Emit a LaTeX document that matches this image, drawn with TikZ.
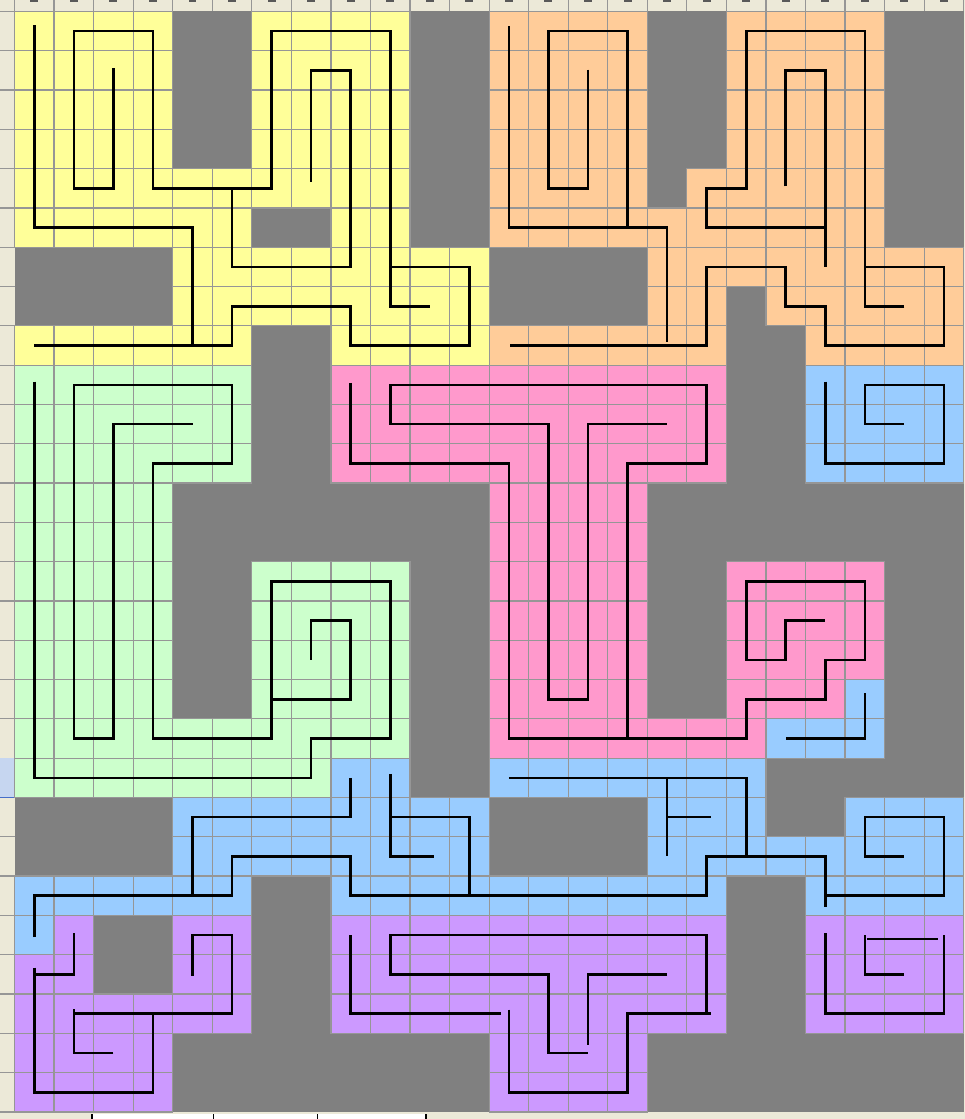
\documentclass[tikz,border=0pt]{standalone}
\usepackage{tikz}
\definecolor{cY}{RGB}{255,255,153}
\definecolor{cO}{RGB}{255,204,153}
\definecolor{cG}{RGB}{204,255,204}
\definecolor{cP}{RGB}{255,153,204}
\definecolor{cB}{RGB}{153,204,255}
\definecolor{cU}{RGB}{204,153,255}
\definecolor{cGray}{RGB}{128,128,128}
\definecolor{cGrid}{RGB}{150,150,150}
\definecolor{cRuler}{RGB}{236,233,216}
\definecolor{cSel}{RGB}{198,214,240}
\definecolor{cSelB}{RGB}{70,110,200}
\tikzset{
  gridcell/.style={draw=cGrid, line width=0.9pt},
  route/.style={draw=black, line width=2pt, line join=miter},
  rulerline/.style={draw=cGrid, line width=0.9pt}
}
\newcommand{\cellblock}[5]{%
  \foreach \rr in {#2,...,#3}{\foreach \cc in {#4,...,#5}{%
    \filldraw[gridcell, fill=#1] (\cc-0.5,\rr-0.5) rectangle ++(1,1);}}}
\begin{document}
\begin{tikzpicture}[x={(29.6625pt,0)}, y={(0,-29.475pt)}]
\useasboundingbox (-0.8673,-0.7926) rectangle (23.532,27.681);
% rulers
\fill[cRuler] (-0.8673,-0.7926) rectangle (23.532,27.681);
\fill[cGray] (-0.5,-0.5) rectangle (23.5,27.5);
\foreach \c in {0,...,24} \draw[rulerline] (\c-0.5,-0.7926) -- (\c-0.5,-0.5);
\foreach \r in {0,...,28} \draw[rulerline] (-0.8673,\r-0.5) -- (-0.5,\r-0.5);
\foreach \c in {0,...,23} \fill[black!65] (\c-0.1,-0.7926) rectangle (\c+0.1,-0.73);
\fill[cSel] (-0.8673,18.5) rectangle (-0.51,19.5);
\draw[cSelB, line width=0.8pt] (-0.8673,19.5) -- (-0.51,19.5) -- (-0.51,18.5);
\fill[white] (1.459,27.56) rectangle (9.904,27.681);
\foreach \x in {1.459,4.52,7.17,9.904} \draw[black, line width=0.8pt] (\x,27.56) -- (\x,27.681);
% yellow
\cellblock{cY}{0}{3}{0}{3}
\cellblock{cY}{0}{3}{6}{9}
\cellblock{cY}{4}{4}{0}{9}
\cellblock{cY}{5}{5}{0}{5}
\cellblock{cY}{5}{5}{8}{9}
\cellblock{cY}{6}{7}{4}{11}
\cellblock{cY}{8}{8}{0}{5}
\cellblock{cY}{8}{8}{8}{11}
% orange
\cellblock{cO}{0}{3}{12}{15}
\cellblock{cO}{0}{3}{18}{21}
\cellblock{cO}{4}{4}{12}{15}
\cellblock{cO}{4}{4}{17}{21}
\cellblock{cO}{5}{5}{12}{21}
\cellblock{cO}{6}{6}{16}{23}
\cellblock{cO}{7}{7}{16}{17}
\cellblock{cO}{7}{7}{19}{23}
\cellblock{cO}{8}{8}{12}{17}
\cellblock{cO}{8}{8}{20}{23}
% green
\cellblock{cG}{9}{11}{0}{5}
\cellblock{cG}{12}{13}{0}{3}
\cellblock{cG}{14}{17}{0}{3}
\cellblock{cG}{14}{17}{6}{9}
\cellblock{cG}{18}{18}{0}{9}
\cellblock{cG}{19}{19}{0}{7}
% pink
\cellblock{cP}{9}{11}{8}{17}
\cellblock{cP}{12}{13}{12}{15}
\cellblock{cP}{14}{16}{12}{15}
\cellblock{cP}{14}{16}{18}{21}
\cellblock{cP}{17}{17}{12}{15}
\cellblock{cP}{17}{17}{18}{20}
\cellblock{cP}{18}{18}{12}{18}
% blue
\cellblock{cB}{9}{11}{20}{23}
\cellblock{cB}{17}{17}{21}{21}
\cellblock{cB}{18}{18}{19}{21}
\cellblock{cB}{19}{19}{8}{9}
\cellblock{cB}{19}{19}{12}{18}
\cellblock{cB}{20}{20}{4}{11}
\cellblock{cB}{20}{20}{16}{18}
\cellblock{cB}{20}{20}{21}{23}
\cellblock{cB}{21}{21}{4}{11}
\cellblock{cB}{21}{21}{16}{23}
\cellblock{cB}{22}{22}{0}{5}
\cellblock{cB}{22}{22}{8}{17}
\cellblock{cB}{22}{22}{20}{23}
\cellblock{cB}{23}{23}{0}{0}
% purple
\cellblock{cU}{23}{23}{1}{1}
\cellblock{cU}{23}{24}{4}{5}
\cellblock{cU}{24}{24}{0}{1}
\cellblock{cU}{23}{25}{8}{17}
\cellblock{cU}{23}{25}{20}{23}
\cellblock{cU}{25}{25}{0}{5}
\cellblock{cU}{26}{27}{0}{3}
\cellblock{cU}{26}{27}{12}{15}
% yellow routes
\draw[route] (2,0.95) -- (2,4) -- (1,4) -- (1,0) -- (3,0) -- (3,4) -- (6,4) -- (6,0) -- (9,0) -- (9,7) -- (10,7);
\draw[route] (9,6) -- (11,6) -- (11,8) -- (8,8) -- (8,7) -- (5,7) -- (5,8) -- (0,8);
\draw[route] (4,8) -- (4,5) -- (0,5) -- (0,-0.15);
\draw[route] (5,4) -- (5,6) -- (8,6) -- (8,1) -- (7,1) -- (7,3.85);
% orange routes
\draw[route] (14,0.98) -- (14,4) -- (13,4) -- (13,0) -- (15,0) -- (15,5);
\draw[route] (12,-0.13) -- (12,5) -- (16,5) -- (16,7.9);
\draw[route] (12.03,8) -- (17,8) -- (17,6) -- (19,6) -- (19,7) -- (20,7) -- (20,8) -- (23,8) -- (23,6) -- (21,6);
\draw[route] (22,7) -- (21,7) -- (21,0) -- (18,0) -- (18,4) -- (17,4) -- (17,5) -- (20,5);
\draw[route] (19,3.95) -- (19,1) -- (20,1) -- (20,6);
% green routes
\draw[route] (0,8.92) -- (0,19) -- (7,19) -- (7,18) -- (9,18) -- (9,14) -- (6,14) -- (6,18) -- (3,18) -- (3,11) -- (5,11) -- (5,9) -- (1,9) -- (1,18) -- (2,18) -- (2,10) -- (4,10);
\draw[route] (7,16) -- (7,15) -- (8,15) -- (8,17) -- (6,17);
% pink routes
\draw[route] (8,8.95) -- (8,11) -- (12,11) -- (12,18) -- (18,18) -- (18,17) -- (20,17) -- (20,16) -- (21,16) -- (21,14) -- (18,14) -- (18,16) -- (19,16) -- (19,15) -- (20,15);
\draw[route] (15,18) -- (15,11) -- (17,11) -- (17,9) -- (9,9) -- (9,10) -- (13,10) -- (13,17) -- (14,17) -- (14,10) -- (16,10);
% blue routes
\draw[route] (20,8.92) -- (20,11) -- (23,11) -- (23,9) -- (21,9) -- (21,10) -- (22,10);
\draw[route] (21,16.85) -- (21,18) -- (19,18);
\draw[route] (0,23.05) -- (0,22) -- (5,22) -- (5,21) -- (8,21) -- (8,22) -- (17,22) -- (17,21) -- (20,21) -- (20,22.28);
\draw[route] (20,22) -- (23,22) -- (23,20) -- (21,20) -- (21,21) -- (22,21);
\draw[route] (12,19) -- (18,19) -- (18,21);
\draw[route] (16,19) -- (16,21);
\draw[route] (16,20) -- (17.1,20);
\draw[route] (8,19) -- (8,20) -- (4,20) -- (4,22);
\draw[route] (9,18.9) -- (9,21) -- (10.1,21);
\draw[route] (9,20) -- (11,20) -- (11,22);
% purple routes
\draw[route] (1,22.95) -- (1,24) -- (0,24);
\draw[route] (0,23.83) -- (0,27) -- (3,27) -- (3,25);
\draw[route] (2,26) -- (1,26) -- (1,24.88);
\draw[route] (1,25) -- (5,25) -- (5,23) -- (4,23) -- (4,24.05);
\draw[route] (8,23) -- (8,25) -- (11.8,25);
\draw[route] (12,24.9) -- (12,27) -- (15,27) -- (15,25) -- (17.1,25);
\draw[route] (17,25) -- (17,23) -- (9,23) -- (9,24) -- (13,24) -- (13,26) -- (14,26);
\draw[route] (16,24) -- (14,24) -- (14,25.8);
\draw[route] (20,22.96) -- (20,25) -- (23,25) -- (23,23);
\draw[route] (21.05,23.1) -- (22.85,23.1);
\draw[route] (21,23) -- (21,24) -- (22,24);
\end{tikzpicture}
\end{document}
